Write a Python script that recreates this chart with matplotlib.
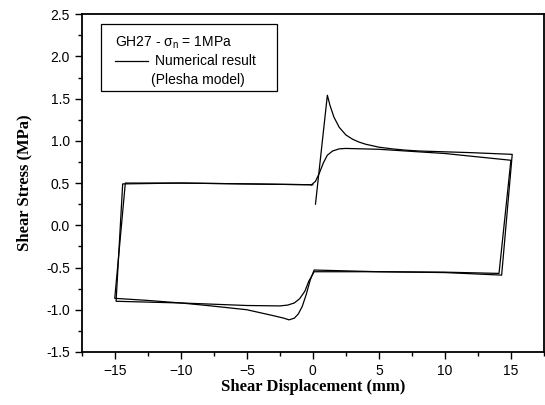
import matplotlib
matplotlib.use("Agg")
import matplotlib.pyplot as plt
from matplotlib.patches import Rectangle
from matplotlib.ticker import MultipleLocator, FormatStrFormatter

# Numerical result (Plesha model): loop with the peak after reversal
num_x = [0.2, 1.1, 1.3, 1.6, 2.0, 2.5, 3.0, 3.5, 4.0, 5.0, 6.0, 7.0, 8.0,
         10.0, 12.0, 15.1,
         14.3, 10.0, 5.0, 0.1, -0.2, -0.5, -0.8, -1.1, -1.4, -1.8, -2.2,
         -3.0, -5.0, -8.0, -10.0, -12.5, -15.0,
         -14.2, -10.0, -5.0, 0.0]
num_y = [0.25, 1.54, 1.42, 1.28, 1.16, 1.07, 1.02, 0.985, 0.96, 0.925, 0.905,
         0.89, 0.88, 0.87, 0.86, 0.84,
         -0.59, -0.56, -0.55, -0.53, -0.65, -0.82, -0.96, -1.05, -1.10, -1.12,
         -1.10, -1.07, -1.0, -0.95, -0.92, -0.89, -0.865,
         0.50, 0.50, 0.49, 0.48]

# smooth curve (no peak)
exp_x = [-0.1, 0.2, 0.5, 0.8, 1.1, 1.5, 2.0, 2.5, 5.0, 10.0, 15.0,
         14.1, 10.0, 5.0, 0.1, -0.3, -0.6, -1.0, -1.4, -1.9, -2.5, -5.0,
         -10.0, -14.9,
         -14.4, -10.0, -5.0, -0.1]
exp_y = [0.48, 0.52, 0.62, 0.74, 0.83, 0.88, 0.905, 0.91, 0.90, 0.85, 0.77,
         -0.57, -0.555, -0.55, -0.55, -0.66, -0.78, -0.87, -0.92, -0.945,
         -0.955, -0.95, -0.92, -0.90,
         0.49, 0.50, 0.49, 0.48]

plt.rcParams['font.family'] = ['Liberation Sans', 'DejaVu Sans']

fig = plt.figure(figsize=(5.45, 4.05), dpi=100)
ax = fig.add_axes([0.150, 0.131, 0.848, 0.834])

ax.plot(exp_x, exp_y, color='black', lw=0.9)
ax.plot(num_x, num_y, color='black', lw=0.9)

ax.set_xlim(-17.5, 17.5)
ax.set_ylim(-1.5, 2.5)
ax.xaxis.set_major_locator(MultipleLocator(5))
ax.xaxis.set_minor_locator(MultipleLocator(2.5))
ax.yaxis.set_major_locator(MultipleLocator(0.5))
ax.yaxis.set_minor_locator(MultipleLocator(0.25))
ax.yaxis.set_major_formatter(FormatStrFormatter('%.1f'))
ax.tick_params(which='both', direction='out', top=False, right=False, width=1.0)
ax.tick_params(which='major', length=5, labelsize=10)
ax.tick_params(which='minor', length=3)
for s in ax.spines.values():
    s.set_linewidth(1.3)

ax.set_xlabel('Shear Displacement (mm)', family='Liberation Serif',
              fontweight='bold', fontsize=12, labelpad=1)
ax.set_ylabel('Shear Stress (MPa)', family='Liberation Serif',
              fontweight='bold', fontsize=12, labelpad=10)

# legend box
ax.add_patch(Rectangle((0.041, 0.772), 0.381, 0.198, transform=ax.transAxes,
                       fill=False, edgecolor='black', lw=0.9))
ax.text(0.071, 0.914, r'GH27 - $\mathregular{\sigma_n}$ = 1MPa',
        transform=ax.transAxes, fontsize=10, va='center', ha='left')
ax.plot([0.071, 0.143], [0.861, 0.861], transform=ax.transAxes,
        color='black', lw=0.9)
ax.text(0.158, 0.861, 'Numerical result', transform=ax.transAxes,
        fontsize=10, va='center', ha='left')
ax.text(0.149, 0.805, '(Plesha model)', transform=ax.transAxes,
        fontsize=10, va='center', ha='left')

fig.savefig('out.png', dpi=100)
